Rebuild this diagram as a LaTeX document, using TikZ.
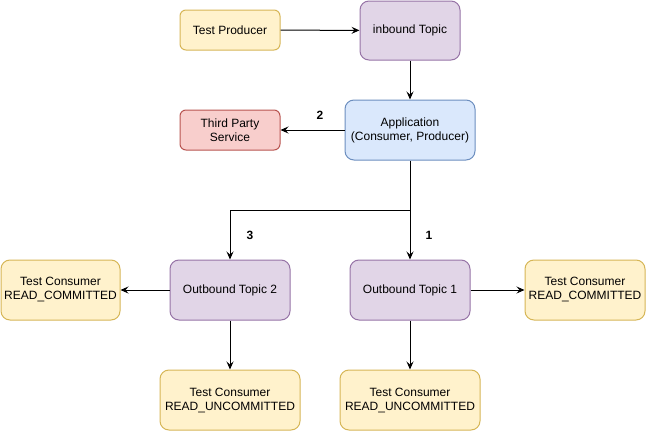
\documentclass[tikz,border=0pt]{standalone}
\usepackage{fontspec}
\setmainfont{Liberation Sans}
\usetikzlibrary{arrows.meta}
\definecolor{yfill}{HTML}{FFF2CC}\definecolor{ydraw}{HTML}{D6B656}
\definecolor{pfill}{HTML}{E1D5E7}\definecolor{pdraw}{HTML}{9673A6}
\definecolor{bfill}{HTML}{DAE8FC}\definecolor{bdraw}{HTML}{6C8EBF}
\definecolor{rfill}{HTML}{F8CECC}\definecolor{rdraw}{HTML}{B85450}
\begin{document}
\begin{tikzpicture}[x=1pt,y=-1pt,
  box/.style={rectangle,inner sep=0pt,line width=1pt,align=center,font=\fontsize{12}{14}\selectfont},
  ybox/.style={box,fill=yfill,draw=ydraw},
  pbox/.style={box,fill=pfill,draw=pdraw},
  bbox/.style={box,fill=bfill,draw=bdraw},
  rbox/.style={box,fill=rfill,draw=rdraw},
  arr/.style={line width=1pt,-{Stealth[length=8pt,width=7pt,inset=3pt]}},
  lbl/.style={font=\fontsize{12}{14}\selectfont,inner sep=0pt}]
\useasboundingbox (0,0) rectangle (646,431);
\node[ybox,minimum width=100pt,minimum height=40pt,rounded corners=6pt] (prod) at (230,30) {Test Producer};
\node[pbox,minimum width=100pt,minimum height=59pt,rounded corners=9pt] (inb) at (410,30.5) {inbound Topic};
\node[bbox,minimum width=130pt,minimum height=60pt,rounded corners=9pt] (app) at (410,130) {Application\\(Consumer, Producer)};
\node[rbox,minimum width=100pt,minimum height=40pt,rounded corners=6pt] (tps) at (230,130) {Third Party\\Service};
\node[pbox,minimum width=120pt,minimum height=60pt,rounded corners=9pt] (ot2) at (230,290) {Outbound Topic 2};
\node[pbox,minimum width=120pt,minimum height=60pt,rounded corners=9pt] (ot1) at (410,290) {Outbound Topic 1};
\node[ybox,minimum width=119pt,minimum height=60pt,rounded corners=9pt] (tcl) at (60.5,290) {Test Consumer\\READ\_COMMITTED};
\node[ybox,minimum width=120pt,minimum height=60pt,rounded corners=9pt] (tcr) at (585,290) {Test Consumer\\READ\_COMMITTED};
\node[ybox,minimum width=140pt,minimum height=60pt,rounded corners=9pt] (tcb2) at (230,400) {Test Consumer\\READ\_UNCOMMITTED};
\node[ybox,minimum width=140pt,minimum height=60pt,rounded corners=9pt] (tcb1) at (410,400) {Test Consumer\\READ\_UNCOMMITTED};
\coordinate (j) at (410,210);
\draw[arr] (prod) -- (inb);
\draw[arr] (inb) -- (app);
\draw[arr] (app) -- (tps);
\draw[arr] (app.south) -- (j) -| (ot2.north);
\draw[arr] (j) -- (ot1.north);
\draw[arr] (ot2) -- (tcl);
\draw[arr] (ot1) -- (tcr);
\draw[arr] (ot2) -- (tcb2);
\draw[arr] (ot1) -- (tcb1);
\node[lbl,font=\fontsize{12}{14}\selectfont\bfseries] (l2) at (320,115) {2};
\node[lbl,font=\fontsize{12}{14}\selectfont\bfseries] (l3) at (250,235) {3};
\node[lbl,font=\fontsize{12}{14}\selectfont\bfseries] (l1) at (429,235) {1};
\end{tikzpicture}
\end{document}
